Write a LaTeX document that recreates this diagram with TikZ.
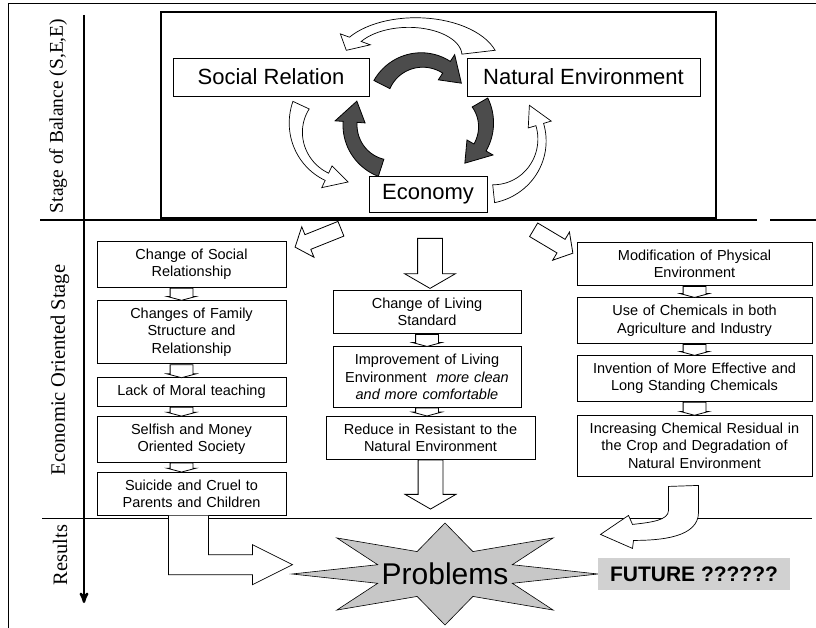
\documentclass[tikz,border=0pt]{standalone}
\usepackage{fontspec}
\setmainfont{Liberation Serif}
\setsansfont{Liberation Sans}
\usetikzlibrary{shapes}
\usetikzlibrary{arrows}
\usetikzlibrary{positioning,calc}

\tikzset{
	stepbox/.style = {
		draw=black,
		line width=0.9pt,
		fill=white,
		align=center,
		font=\sffamily\fontsize{14.5}{17.5}\selectfont,
		inner xsep=3pt,
		inner ysep=7.5pt,
		anchor=north
	},
	col_l/.style = {stepbox, text width=183pt},
	col_m/.style = {stepbox, text width=182pt},
	col_r/.style = {stepbox, text width=229pt},
	keybox/.style = {
		draw=black,
		line width=0.9pt,
		fill=white,
		font=\sffamily\fontsize{22}{26}\selectfont,
		minimum height=38pt,
		inner sep=0pt
	},
	stagelabel/.style = {
		rotate=90,
		font=\fontsize{20.5}{24}\selectfont
	},
	fatarrow/.style = {
		single arrow,
		draw=black,
		line width=0.8pt,
		fill=white,
		inner xsep=0pt
	},
	bigarrow/.style = {
		fatarrow,
		inner ysep=12pt,
		minimum width=50pt,
		single arrow head extend=13pt,
		single arrow tip angle=120
	},
	slimarrow/.style = {
		fatarrow,
		inner ysep=7.5pt,
		minimum width=32pt,
		single arrow head extend=8.5pt,
		single arrow tip angle=100
	},
	stubarrow/.style = {
		fatarrow,
		inner ysep=11pt,
		minimum width=28pt,
		single arrow head extend=3pt,
		single arrow tip angle=150
	},
	swoosh/.style = {draw=black, line width=0.7pt, fill=white},
	swoosh_dark/.style = {draw=black, line width=0.8pt, fill=black!70},
}

% straight block arrow from #2 to #3
\newcommand\blockarrow[3][]{%
	\path let \p1=(#2), \p2=(#3),
		\n1={atan2(\y2-\y1,\x2-\x1)}, \n2={veclen(\x2-\x1,\y2-\y1)} in
		node[#1, minimum height=\n2, rotate=\n1, anchor=tail] at (\p1) {};
}

% curved block arrow round centre #2, from angle #3 to angle #4, radius #5
% half widths: #6 at the tail, #7 at the neck, #8 of the head
\newcommand\ringarrow[8][]{%
	\pgfmathsetmacro\arcA{#3}%
	\pgfmathsetmacro\arcB{#4}%
	\pgfmathsetmacro\arcN{\arcB-sign(\arcB-\arcA)*22*57.3/(#5)}%
	\draw[shift={(#2)}, #1]
		plot[domain=\arcA:\arcN, samples=30]
			(\x:{#5+#7+(#6-#7)*((\arcN-\x)/(\arcN-\arcA))^2})
		-- (\arcN:{#5+#8}) -- (\arcB:#5) -- (\arcN:{#5-#8})
		-- plot[domain=\arcN:\arcA, samples=30]
			(\x:{#5-#7-(#6-#7)*((\arcN-\x)/(\arcN-\arcA))^2})
		-- cycle;
}

\begin{document}
\begin{tikzpicture}[x=1pt, y=-1pt, node distance=11pt]
\useasboundingbox (0,0) rectangle (816,628);

% frame and stage rulers
\draw[line width=0.9pt] (8,628) -- (8,3) -- (816,3);
\draw[line width=1.2pt] (40,220) -- (757,220) (770,220) -- (816,220);
\draw[line width=0.9pt] (42,518) -- (812,518);
\coordinate (axtop) at (84,15);
\coordinate (axbot) at (84,603);
\draw[line width=2.4pt, -stealth'] (axtop) -- (axbot);

\node[stagelabel, font=\fontsize{19.5}{23}\selectfont] (balance) at (58,116) {Stage of Balance (S,E,E)};
\node[stagelabel] (econstage) at (60,370) {Economic Oriented Stage};
\node[stagelabel] (results) at (60,555) {Results};

% balance of the three
\node[draw=black, line width=1.6pt, minimum width=555pt, minimum height=206pt,
	anchor=north west] (frame) at (160,11) {};
\node[keybox, minimum width=196pt] (soc) at (271,77) {Social Relation};
\node[keybox, minimum width=233pt] (nat) at (583.5,77) {Natural Environment};
\node[keybox, minimum width=118pt, minimum height=36pt] (eco) at (428,194) {Economy};
\coordinate (hub) at ($(soc.east)!0.5!(nat.west)$);

\ringarrow[swoosh_dark]{$(hub)+(4,28)$}{-153}{-29}{45}{9}{7}{15}
\ringarrow[swoosh_dark]{$(hub)+(23,48)$}{-30}{58}{45}{9}{7}{15}
\ringarrow[swoosh_dark]{$(hub)+(-23,48)$}{108}{212}{45}{9}{7}{15}
\ringarrow[swoosh, yscale=0.55]{$(hub)+(-6,-17)$}{-12}{-165}{68}{17}{7}{18}
\ringarrow[swoosh]{$(hub)+(-68,51)$}{205}{92}{54}{9}{4}{12}
\ringarrow[swoosh]{$(hub)+(70,63)$}{84}{-40}{54}{9}{4}{12}

% social column
\node[col_l] (l1) at (191.5,241) {Change of Social\\Relationship};
\node[col_l, below=12pt of l1] (l2) {Changes of Family\\Structure and\\Relationship};
\node[col_l, below=13pt of l2] (l3) {Lack of Moral teaching};
\node[col_l, below=9pt of l3] (l4) {Selfish and Money\\Oriented Society};
\node[col_l, below=9pt of l4] (l5) {Suicide and Cruel to\\Parents and Children};

% living column
\node[col_m] (m1) at (427,290) {Change of Living\\Standard};
\node[col_m, below=12pt of m1] (m2) {Improvement of Living\\Environment \ \textit{more clean}\\\textit{and more comfortable}};
\node[col_m, text width=203pt, below=8pt of m2, xshift=3.5pt] (m3) {Reduce in Resistant to the\\Natural Environment};

% environment column
\node[col_r] (r1) at (694.5,242) {Modification of Physical\\Environment};
\node[col_r, below=11pt of r1] (r2) {Use of Chemicals in both\\Agriculture and Industry};
\node[col_r, below=11pt of r2] (r3) {Invention of More Effective and\\Long Standing Chemicals};
\node[col_r, below=13pt of r3] (r4) {Increasing Chemical Residual in\\the Crop and Degradation of\\Natural Environment};

\blockarrow[slimarrow]{$(frame.south)+(-97,10)$}{$(l1.north east)+(9,6)$}
\blockarrow[bigarrow]{$(m1.north)+(3,-52)$}{$(m1.north)+(3,-2)$}
\blockarrow[slimarrow]{$(frame.south)+(95,11)$}{$(r1.north west)+(-4,11)$}

\blockarrow[stubarrow, xshift=-10pt]{l1.south}{l2.north}
\blockarrow[stubarrow, xshift=-10pt]{l2.south}{l3.north}
\blockarrow[stubarrow, xshift=-10pt]{l3.south}{l4.north}
\blockarrow[stubarrow, xshift=-10pt]{l4.south}{l5.north}
\blockarrow[stubarrow]{m1.south}{m2.north}
\blockarrow[stubarrow]{m2.south}{$(m2.south)+(0,8)$}
\blockarrow[stubarrow]{r1.south}{r2.north}
\blockarrow[stubarrow]{r2.south}{r3.north}
\blockarrow[stubarrow]{r3.south}{r4.north}

% results
\node[draw=black, line width=0.6pt, fill=black!22, star, star points=8,
	star point ratio=2.1, minimum size=102pt, inner sep=0pt, xscale=3] (star) at (445,574) {};
\node[font=\sffamily\fontsize{30}{34}\selectfont] (problems) at (star) {Problems};
\node[fill=black!18, font=\sffamily\bfseries\fontsize{21}{25}\selectfont,
	minimum width=192pt, minimum height=32pt, inner sep=0pt] (future) at (694,574) {FUTURE ??????};

\blockarrow[bigarrow]{m3.south}{$(m3.south)+(0,49)$}
\draw[swoosh] ($(l5.south)+(-23,0)$) -- ++(0,59) -- ++(84,0) -- ++(0,10)
	-- ++(40,-20) -- ++(-40,-20) -- ++(0,10) -- ++(-44,0) -- ++(0,-39);
\begin{scope}[shift={(r4.south)}]
\draw[swoosh] (-26,10) -- (4,9) -- (4,36) .. controls (4,61) and (-34,64) .. (-61,64)
	-- (-62,72) -- (-94,58) -- (-66,39) -- (-62,48)
	.. controls (-44,46) and (-26,44) .. (-26,34) -- cycle;
\end{scope}
\end{tikzpicture}
\end{document}
